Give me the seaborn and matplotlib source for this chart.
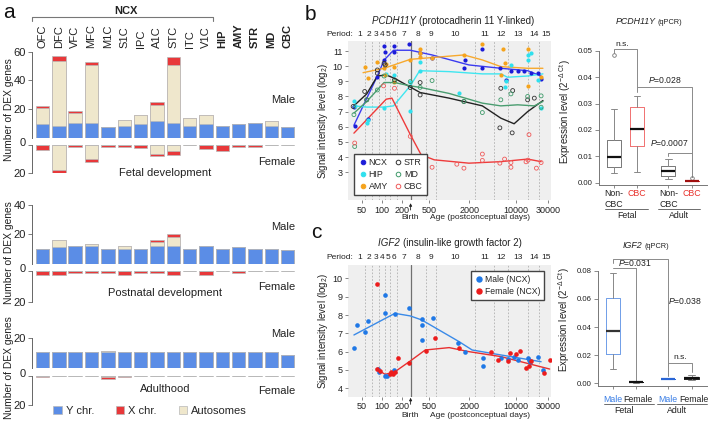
import matplotlib
matplotlib.use("Agg")
import matplotlib.pyplot as plt
import matplotlib.transforms as mtransforms
from matplotlib.lines import Line2D
from matplotlib.patches import Patch
import seaborn as sns
import numpy as np
import pandas as pd

sns.set_theme(style="white")
plt.rcParams["font.family"] = ["Liberation Sans", "DejaVu Sans"]
plt.rcParams["mathtext.fontset"] = "custom"
plt.rcParams["mathtext.rm"] = "Liberation Sans"
plt.rcParams["mathtext.it"] = "Liberation Sans:italic"
plt.rcParams["mathtext.bf"] = "Liberation Sans:bold"
plt.rcParams["axes.unicode_minus"] = False

# ---------------- data: panel a ----------------
regions = ["OFC", "DFC", "VFC", "MFC", "M1C", "S1C", "IPC", "A1C", "STC", "ITC",
           "V1C", "HIP", "AMY", "STR", "MD", "CBC"]
bold_regions = ["HIP", "AMY", "STR", "MD", "CBC"]

fetal_male_Y = [9.5, 8, 10, 10, 7.2, 8, 9.3, 11.4, 10, 8, 9.3, 8, 9.3, 10, 8, 7.2]
fetal_male_A = [11.5, 45.5, 7.5, 40.5, 0, 4.2, 6.3, 11.4, 40.7, 5.4, 6.3, 0, 0, 0, 3.3, 0]
fetal_male_X = [1, 3.5, 1.2, 2.3, 0, 0, 0, 2.3, 5.3, 0, 0, 0, 0, 0, 0, 0]
fetal_female_Y = [0] * 16
fetal_female_A = [0, 17.5, 0, 10, 0, 0, 0, 6.5, 4.2, 0, 0, 0, 0, 0, 0, 0]
fetal_female_X = [3.5, 2.5, 1.5, 2.3, 1.5, 1.5, 1.8, 1.3, 2.8, 0, 2.6, 4.5, 1.2, 1.7, 0, 0]

post_male_Y = [10, 11.1, 12, 12, 10, 10, 10, 12, 12, 10, 12, 10, 11.1, 10, 10, 9.1]
post_male_A = [0, 5, 0, 1.2, 0, 2, 0, 3, 6, 0, 0, 0, 0, 0, 0, 0]
post_male_X = [0, 0, 0, 0, 0, 0, 0, 1.1, 2, 0, 0, 0, 0, 0, 0, 0]
post_female_Y = [0] * 16
post_female_A = [0] * 16
post_female_X = [2.5, 2.5, 1.2, 1.2, 1.2, 2.5, 1.2, 1.2, 2.5, 0, 2.5, 0, 1.2, 0, 0, 0]

adult_male_Y = [10.5] * 15 + [8.6]
adult_male_A = [0, 0, 0, 0, 1.1, 0, 0, 0, 0, 0, 0, 0, 0, 0, 0, 0]
adult_male_X = [0] * 16
adult_female_Y = [0] * 16
adult_female_A = [0, 0, 0, 0, 1, 0, 0, 0, 0, 0, 0, 0, 0, 0, 0, 0]
adult_female_X = [1, 0, 0, 0, 1, 1, 0, 0, 0, 0, 0, 0, 0, 0, 0, 0]

# ---------------- data: panel b (PCDH11Y array) ----------------
period_bounds = [39, 56, 70, 91, 112, 133, 168, 266, 448, 631, 2456, 4646, 7566, 14866, 22166, 35000]
birth_day = 266
age_ticks = [50, 100, 200, 500, 2000, 10000, 30000]

NCX_pt_age = [38, 39, 61, 85, 107, 108, 111, 148, 151, 251, 363, 556, 1660, 1718, 3126, 3126,
              5700, 7020, 8340, 10500, 13200, 16600, 20900, 23500]
NCX_pt_val = [7.29, 6.02, 6.5, 9.31, 10.41, 11.33, 10.96, 11.33, 10.96, 11.44, 10.85, 10.56,
              9.86, 10.41, 11.11, 9.86, 9.86, 9.09, 9.71, 9.71, 9.71, 9.57, 9.57, 9.14]
NCX_ln_age = [38, 85, 107, 148, 263, 556, 1970, 5890, 14800, 23500]
NCX_ln_val = [6.1, 9.35, 10.4, 11.05, 11.05, 10.74, 10.08, 9.86, 9.7, 9.35]

HIP_pt_age = [38, 39, 59, 62, 107, 115, 153, 263, 263, 362, 362, 1400, 6700, 7020, 8340,
              14800, 14800, 16600, 20900, 23500]
HIP_pt_val = [7.67, 7.34, 6.28, 6.46, 7.23, 9.49, 9.42, 7.05, 8.98, 9.71, 10.3, 8.26, 8.6,
              9.0, 10.08, 10.74, 10.41, 10.85, 9.09, 7.23]
HIP_ln_age = [38, 59, 107, 148, 263, 363, 1000, 3126, 5890, 7400, 14800, 25000]
HIP_ln_val = [7.38, 7.3, 7.3, 7.38, 8.7, 9.7, 9.64, 9.49, 9.49, 9.27, 9.35, 9.49]

AMY_pt_age = [55, 61, 85, 105, 111, 115, 148, 153, 263, 363, 363, 363, 556, 1660, 3126,
              5890, 6300, 6700, 14800, 14800, 23500]
AMY_pt_val = [9.97, 9.2, 10.3, 9.86, 9.42, 10.12, 9.97, 8.98, 10.41, 11.11, 10.85, 10.63,
              10.52, 10.74, 11.46, 9.42, 11.1, 10.19, 11.1, 8.7, 9.27]
AMY_ln_age = [52, 107, 263, 1660, 3126, 5890, 14800, 25000]
AMY_ln_val = [9.57, 9.86, 10.45, 10.74, 10.41, 9.97, 9.86, 9.86]

STR_pt_age = [37, 55, 59, 85, 85, 107, 111, 153, 263, 369, 369, 1660, 5700, 8700, 5890,
              8850, 14800, 18600]
STR_pt_val = [7.34, 8.33, 7.78, 9.53, 9.75, 10.19, 10.08, 9.09, 8.59, 8.92, 8.1, 7.67, 5.93,
              5.6, 8.54, 8.39, 7.78, 7.89]
STR_ln_age = [37, 59, 85, 115, 153, 369, 1000, 3126, 5890, 9300, 14800, 25000]
STR_ln_val = [7.34, 8.17, 9.35, 9.42, 9.2, 8.26, 7.89, 7.38, 6.57, 6.2, 7.0, 7.73]

MD_pt_age = [38, 39, 59, 85, 107, 153, 263, 369, 556, 1660, 3126, 5890, 8340, 14800,
             23500, 23500]
MD_pt_val = [6.8, 4.7, 7.78, 8.43, 9.35, 8.98, 8.98, 8.6, 9.05, 7.67, 6.94, 7.78, 8.17, 8.0,
             8.04, 7.29]
MD_ln_age = [38, 59, 107, 153, 263, 369, 1000, 3126, 5890, 10500, 18600, 25000]
MD_ln_val = [6.9, 7.67, 8.92, 8.92, 8.7, 8.6, 8.2, 7.56, 7.38, 7.45, 7.38, 7.67]

CBC_pt_age = [39, 105, 153, 263, 382, 382, 556, 1300, 1660, 3126, 3126, 5700, 6700, 8340,
              8340, 14000, 15500, 15000, 20000, 23500]
CBC_pt_val = [4.93, 8.7, 8.54, 5.37, 4.0, 3.64, 3.33, 3.53, 3.27, 4.2, 3.78, 3.6, 3.87, 3.64,
              3.33, 3.69, 5.48, 3.8, 3.27, 3.64]
CBC_ln_age = [38, 115, 140, 263, 382, 600, 1970, 5890, 14800, 23500]
CBC_ln_val = [5.58, 7.82, 7.89, 5.49, 4.15, 3.82, 3.6, 3.7, 3.87, 3.7]

# ---------------- data: panel c (IGF2 array) ----------------
male_pt_age = [38, 42, 55, 62, 88, 91, 111, 111, 111, 117, 151, 156, 256, 394, 394, 394, 569,
               1349, 1718, 3198, 3198, 5890, 7420, 9340, 10730, 14850, 15370, 15900, 20980, 24960]
male_pt_val = [6.22, 7.45, 7.05, 7.67, 5.05, 4.87, 4.69, 9.09, 8.09, 4.69, 5.0, 8.05, 8.4,
               7.76, 7.45, 6.62, 7.82, 6.49, 6.0, 5.64, 5.24, 5.67, 5.6, 5.73, 5.53, 5.67,
               5.55, 5.42, 5.73, 4.98]
male_ln_age = [38, 155, 263, 390, 1400, 2200, 5890, 23500]
male_ln_val = [6.91, 8.09, 7.95, 7.73, 6.55, 6.09, 5.82, 5.45]

female_pt_age = [83, 85, 93, 129, 135, 145, 156, 175, 248, 457, 624, 1397, 4275, 5260, 7420,
                 8130, 9900, 11500, 14000, 15370, 16640, 26360, 31350]
female_pt_val = [9.69, 5.05, 4.95, 4.76, 4.87, 4.8, 4.87, 5.67, 5.4, 6.04, 6.76, 6.18, 6.0,
                 5.55, 5.49, 5.91, 5.85, 6.04, 5.13, 5.24, 5.49, 4.82, 5.55]
female_ln_age = [82, 111, 155, 263, 440, 1000, 1970, 5890, 31500]
female_ln_val = [5.05, 4.76, 4.9, 5.49, 6.09, 6.22, 6.0, 5.73, 5.05]

# ---------------- data: qPCR boxes ----------------
pcdh_groups = ["Non-CBC fetal", "CBC fetal", "Non-CBC adult", "CBC adult"]
pcdh_whislo = [0.0038, 0.0042, 0.0013, 0.0008]
pcdh_q1 = [0.0061, 0.0140, 0.0027, 0.0008]
pcdh_med = [0.0098, 0.0202, 0.0045, 0.0008]
pcdh_q3 = [0.0162, 0.0288, 0.0063, 0.0008]
pcdh_whishi = [0.0279, 0.0330, 0.0091, 0.0008]
pcdh_fliers = [[0.0484], [], [], [0.0018]]

igf2_groups = ["Male fetal", "Female fetal", "Male adult", "Female adult"]
igf2_whislo = [0.0099, 0.0005, 0.0028, 0.0024]
igf2_q1 = [0.0206, 0.0006, 0.0028, 0.0031]
igf2_med = [0.0374, 0.0007, 0.0028, 0.0040]
igf2_q3 = [0.0604, 0.0008, 0.0028, 0.0047]
igf2_whishi = [0.0781, 0.0010, 0.0028, 0.0059]
igf2_fliers = [[], [], [], []]

# ---------------- layout helpers ----------------
W, H = 715, 424
fig = plt.figure(figsize=(W / 100, H / 100), dpi=100)


def fx(x):
    return x / W


def fy(y):
    return 1 - y / H


def add_ax(l, t, r, b):
    return fig.add_axes([l / W, 1 - b / H, (r - l) / W, (b - t) / H])


COL_Y = "#5b8de6"
COL_X = "#e8383a"
COL_A = "#efe7cc"
EDGE = "#b8b8b8"
GRAYTXT = "#222222"

# ================= panel a =================
a_specs = [
    (51.6, 137.7, 60, False, fetal_male_Y, fetal_male_A, fetal_male_X),
    (145, 173.3, 20, True, fetal_female_Y, fetal_female_A, fetal_female_X),
    (205, 263.7, 40, False, post_male_Y, post_male_A, post_male_X),
    (271, 301.7, 20, True, post_female_Y, post_female_A, post_female_X),
    (338.3, 367.7, 20, False, adult_male_Y, adult_male_A, adult_male_X),
    (376, 405, 20, True, adult_female_Y, adult_female_A, adult_female_X),
]
a_axes = []
for top, bot, ymax, female, yv, av, xv in a_specs:
    ax = add_ax(31.7, top, 296, bot)
    df = pd.DataFrame({"region": regions, "Y": yv, "A": av, "X": xv})
    df["YA"] = df["Y"] + df["A"]
    df["T"] = df["YA"] + df["X"]
    for col, c in (("T", COL_X), ("YA", COL_A), ("Y", COL_Y)):
        sns.barplot(data=df, x="region", y=col, order=regions, color=c, saturation=1,
                    width=0.82, errorbar=None, edgecolor=EDGE, linewidth=0.5, ax=ax)
    ax.set_xlim(-0.66, 15.51)
    ax.set_xlabel("")
    ax.set_ylabel("")
    ax.set_xticks([])
    if female:
        ax.set_ylim(ymax, 0)
        ax.set_yticks([0, ymax])
        ax.spines["left"].set_bounds(0, ymax)
    else:
        ax.set_ylim(0, ymax)
        ax.set_yticks(list(range(20, ymax + 1, 20)))
        ax.spines["left"].set_bounds(0, ymax)
    for s in ("top", "right", "bottom"):
        ax.spines[s].set_visible(False)
    ax.spines["left"].set_color("#666666")
    ax.spines["left"].set_linewidth(0.7)
    ax.tick_params(axis="y", left=True, length=3, width=0.6, color="#666666",
                   labelsize=8, pad=1.2, labelcolor=GRAYTXT)
    ax.patch.set_alpha(0)
    a_axes.append(ax)

# nudge the female "0" labels up to sit between the male and female halves
for ax in a_axes[1::2]:
    offs = mtransforms.ScaledTranslation(0, 3.0 / 100, fig.dpi_scale_trans)
    lab = ax.get_yticklabels()[0]
    lab.set_transform(lab.get_transform() + offs)

ax0 = a_axes[0]
tr_top = mtransforms.blended_transform_factory(ax0.transData, fig.transFigure)
for i, r in enumerate(regions):
    ax0.text(i, fy(48.5), r, rotation=90, ha="center", va="bottom", fontsize=8,
             fontweight="bold" if r in bold_regions else "normal", color=GRAYTXT,
             transform=tr_top)
ax0.add_line(Line2D([-0.66, -0.66, 10.45, 10.45], [fy(20.5), fy(17), fy(17), fy(20.5)],
                    transform=tr_top, color="#777777", lw=0.8, clip_on=False))
ax0.text(5.1, fy(11), "NCX", ha="center", va="center", fontsize=8, fontweight="bold",
         color=GRAYTXT, transform=tr_top)

for cy in (110, 253, 368):
    fig.text(fx(8.7), fy(cy), "Number of DEX genes", rotation=90, ha="center", va="center",
             fontsize=7.4, color=GRAYTXT)
for y, t in ((100, "Male"), (162, "Female"), (227, "Male"), (287, "Female"),
             (334, "Male"), (391, "Female")):
    fig.text(fx(295), fy(y), t, ha="right", va="center", fontsize=8, color=GRAYTXT)
for y, t in ((173, "Fetal development"), (293, "Postnatal development"), (389, "Adulthood")):
    fig.text(fx(165), fy(y), t, ha="center", va="center", fontsize=8, color=GRAYTXT)

leg_handles = [Patch(facecolor=COL_Y, edgecolor=EDGE, lw=0.5),
               Patch(facecolor=COL_X, edgecolor=EDGE, lw=0.5),
               Patch(facecolor=COL_A, edgecolor=EDGE, lw=0.5)]
fig.legend(leg_handles, ["Y chr.", "X chr.", "Autosomes"], ncol=3, loc="center left",
           bbox_to_anchor=(fx(53.3), fy(411)), frameon=False, fontsize=8,
           handlelength=0.75, handleheight=0.75, handletextpad=0.35, columnspacing=2.0,
           borderpad=0, borderaxespad=0)

# ================= panels b/c scatter =================
BG = "#efefef"
DASH = "#b0b0b0"


def style_time_axis(ax, ylim, yticks, per_y, arrow_y, birth_y, gene, desc, title_xy):
    ax.set_xscale("log")
    ax.set_facecolor(BG)
    ax.set_xlim(31, 33000)
    ax.set_ylim(*ylim)
    ax.set_yticks(yticks)
    ax.set_xticks(age_ticks)
    ax.set_xticklabels([str(t) for t in age_ticks])
    ax.minorticks_off()
    for s in ax.spines.values():
        s.set_visible(False)
    ax.tick_params(axis="both", bottom=True, left=True, length=2.5, width=0.5,
                   color="#555555", labelsize=6.5, pad=1.5, labelcolor=GRAYTXT)
    for b in period_bounds[1:-1]:
        if b == birth_day:
            continue
        ax.axvline(b, color=DASH, lw=0.6, ls=(0, (2, 2)), zorder=0.5)
    ax.axvline(birth_day, color="#707070", lw=0.9, zorder=0.6)
    trb = mtransforms.blended_transform_factory(ax.transData, ax.transAxes)
    for i in range(len(period_bounds) - 1):
        g = np.sqrt(period_bounds[i] * period_bounds[i + 1])
        ax.text(g, per_y, str(i + 1), ha="center", va="center", fontsize=6,
                color=GRAYTXT, transform=trb)
    ax.text(0.025, per_y, "Period:", ha="right", va="center", fontsize=6, color=GRAYTXT,
            transform=ax.transAxes)
    ax.annotate("", xy=(birth_day, arrow_y[0]), xycoords=trb,
                xytext=(birth_day, arrow_y[1]), textcoords=trb,
                arrowprops=dict(arrowstyle="-|>", color="#222222", lw=0.6,
                                mutation_scale=4, shrinkA=0, shrinkB=0),
                annotation_clip=False)
    ax.text(birth_day, birth_y, "Birth", ha="center", va="center", fontsize=6,
            color=GRAYTXT, transform=trb)
    ax.text(0.648, birth_y, "Age (postconceptual days)", ha="center", va="center",
            fontsize=6, color=GRAYTXT, transform=ax.transAxes)
    ax.set_ylabel(r"Signal intensity level (log$_2$)", fontsize=7, labelpad=2, color=GRAYTXT)
    fig.text(fx(title_xy[0]), fy(title_xy[1]), gene + " ", ha="right", va="baseline",
             fontsize=7, fontstyle="italic", color=GRAYTXT)
    fig.text(fx(title_xy[0]), fy(title_xy[1]), desc, ha="left", va="baseline",
             fontsize=7, color=GRAYTXT)


ax_b = add_ax(348, 41, 551, 200)
ax_b.set_xscale("log")
b_series = [
    ("NCX", NCX_pt_age, NCX_pt_val, NCX_ln_age, NCX_ln_val, "#1c1cd8", "#3b3bef", True),
    ("HIP", HIP_pt_age, HIP_pt_val, HIP_ln_age, HIP_ln_val, "#2fe0ee", "#3fe6f0", True),
    ("AMY", AMY_pt_age, AMY_pt_val, AMY_ln_age, AMY_ln_val, "#f5a31c", "#f7a92e", True),
    ("STR", STR_pt_age, STR_pt_val, STR_ln_age, STR_ln_val, "#333333", "#222222", False),
    ("MD", MD_pt_age, MD_pt_val, MD_ln_age, MD_ln_val, "#3f9a6a", "#4a9d70", False),
    ("CBC", CBC_pt_age, CBC_pt_val, CBC_ln_age, CBC_ln_val, "#ef5a5a", "#ee3b3b", False),
]
b_handles = []
for name, pa, pv, la, lv, pc, lc, filled in b_series:
    if filled:
        sns.scatterplot(x=pa, y=pv, color=pc, s=9, linewidth=0, ax=ax_b, zorder=3, legend=False)
    else:
        sns.scatterplot(x=pa, y=pv, color=pc, facecolor="none", edgecolor=pc, s=8,
                        linewidth=0.6, ax=ax_b, zorder=3, legend=False)
    sns.lineplot(x=la, y=lv, color=lc, lw=1.0, ax=ax_b, errorbar=None, zorder=2, legend=False)
    b_handles.append(Line2D([], [], ls="", marker="o", markersize=3.3, color=pc,
                            markerfacecolor=pc if filled else "none", markeredgewidth=0.7))
style_time_axis(ax_b, (1.17, 11.66), list(range(3, 12)), 1.044, (-0.02, -0.063), -0.113,
                "PCDH11Y", "(protocadherin 11 Y-linked)", (419, 24.2))
ax_b.legend(b_handles, [s[0] for s in b_series], ncol=2, loc="lower left",
            bbox_to_anchor=(0.008, 0.005), fontsize=6.4, frameon=True, fancybox=False,
            edgecolor="#444444", framealpha=1, handletextpad=0.2, columnspacing=0.6,
            borderpad=0.45, labelspacing=0.3, handlelength=1.0)

ax_c = add_ax(348, 265, 551, 396.7)
ax_c.set_xscale("log")
sns.scatterplot(x=male_pt_age, y=male_pt_val, color="#1f78e6", s=11, linewidth=0, ax=ax_c,
                zorder=3, legend=False)
sns.scatterplot(x=female_pt_age, y=female_pt_val, color="#ec1c1c", s=11, linewidth=0, ax=ax_c,
                zorder=3, legend=False)
sns.lineplot(x=male_ln_age, y=male_ln_val, color="#3a8ae8", lw=1.0, ax=ax_c, errorbar=None,
             zorder=2, legend=False)
sns.lineplot(x=female_ln_age, y=female_ln_val, color="#e83030", lw=1.0, ax=ax_c,
             errorbar=None, zorder=2, legend=False)
style_time_axis(ax_c, (3.54, 10.73), list(range(4, 11)), 1.055, (-0.008, -0.058), -0.139,
                "IGF2", "(insulin-like growth factor 2)", (403, 245.8))
c_handles = [Line2D([], [], ls="", marker="o", markersize=3.6, color="#1f78e6"),
             Line2D([], [], ls="", marker="o", markersize=3.6, color="#ec1c1c")]
ax_c.legend(c_handles, ["Male (NCX)", "Female (NCX)"], loc="upper right",
            bbox_to_anchor=(0.988, 0.985), fontsize=6.2, frameon=True, fancybox=False,
            edgecolor="#444444", framealpha=1, handletextpad=0.2, borderpad=0.45,
            labelspacing=0.35, handlelength=1.0)

# ================= qPCR box panels =================
box_pos = [0, 1, 2.39, 3.42]


def draw_boxes(ax, wl, q1, med, q3, wh, fl, edge_cols, med_cols, ylim, ymax_spine, step):
    stats = [dict(whislo=wl[i], q1=q1[i], med=med[i], q3=q3[i], whishi=wh[i], fliers=fl[i])
             for i in range(len(med))]
    res = ax.bxp(stats, positions=box_pos, widths=0.62, capwidths=0.28, showfliers=True,
                 boxprops=dict(lw=0.7), whiskerprops=dict(lw=0.7, color="#888888"),
                 capprops=dict(lw=0.7, color="#888888"), medianprops=dict(lw=1.6),
                 flierprops=dict(marker="o", markersize=2.6, markerfacecolor="none",
                                 markeredgecolor="#777777", markeredgewidth=0.6))
    for i in range(len(med)):
        res["boxes"][i].set_color(edge_cols[i])
        res["medians"][i].set_color(med_cols[i])
    ax.set_xlim(-0.65, 4.08)
    ax.set_ylim(*ylim)
    ticks = np.round(np.arange(0, ymax_spine + step / 2, step), 3)
    ax.set_yticks(ticks)
    ax.set_yticklabels([f"{t:.2f}" for t in ticks])
    ax.set_xticks(box_pos)
    ax.set_xticklabels([])
    for s in ("top", "right"):
        ax.spines[s].set_visible(False)
    for s in ("left", "bottom"):
        ax.spines[s].set_color("#777777")
        ax.spines[s].set_linewidth(0.7)
    ax.spines["left"].set_bounds(ylim[0], ymax_spine)
    ax.tick_params(axis="y", left=True, length=3, width=0.6, color="#777777", labelsize=5.6,
                   pad=2, labelcolor=GRAYTXT)
    ax.tick_params(axis="x", bottom=True, length=2, width=0.6, color="#777777")
    ax.set_ylabel(r"Expression level (2$^{-\Delta\ \mathrm{Ct}}$)", fontsize=7, labelpad=3,
                  color=GRAYTXT)
    ax.patch.set_alpha(0)


def bracket(ax, x0, x1, y0, yh, y1):
    ax.plot([x0, x0, x1, x1], [y0, yh, yh, y1], color="#8a8a8a", lw=0.7, clip_on=False,
            zorder=1)


RED_T = "#e8302a"
BLUE_T = "#3a7ee6"

ax_bb = add_ax(599.3, 37.5, 706.7, 185)
draw_boxes(ax_bb, pcdh_whislo, pcdh_q1, pcdh_med, pcdh_q3, pcdh_whishi, pcdh_fliers,
           ["#777777", "#f07070", "#777777", "#d03030"],
           ["#111111", "#111111", "#111111", "#a01010"],
           (-0.00087, 0.055), 0.05, 0.01)
bracket(ax_bb, 0, 1, 0.049, 0.0506, 0.0345)
bracket(ax_bb, 1, 3.42, 0.0364, 0.0364, 0.0022)
bracket(ax_bb, 2.39, 3.42, 0.0101, 0.0114, 0.0022)
ax_bb.text(0.34, 0.0525, "n.s.", ha="center", va="center", fontsize=6, color=GRAYTXT)
ax_bb.text(2.25, 0.0388, r"$\mathit{P}$=0.028", ha="center", va="center", fontsize=6.2,
           color=GRAYTXT)
ax_bb.text(2.42, 0.0150, r"$\mathit{P}$=0.0007", ha="center", va="center", fontsize=6.2,
           color=GRAYTXT)
trbb = mtransforms.blended_transform_factory(ax_bb.transData, ax_bb.transAxes)
for p, t, c in ((0, "Non-", GRAYTXT), (1, "CBC", RED_T), (2.39, "Non-", GRAYTXT),
                (3.42, "CBC", RED_T)):
    ax_bb.text(p, -0.061, t, ha="center", va="center", fontsize=6.3, color=c, transform=trbb)
for p in (0, 2.39):
    ax_bb.text(p, -0.129, "CBC", ha="center", va="center", fontsize=6.3, color=GRAYTXT,
               transform=trbb)
for xa, xb, lab in ((-0.4, 1.5, "Fetal"), (1.94, 3.79, "Adult")):
    ax_bb.add_line(Line2D([xa, xb], [-0.163, -0.163], transform=trbb, color="#555555",
                          lw=0.6, clip_on=False))
    ax_bb.text((xa + xb) / 2, -0.205, lab, ha="center", va="center", fontsize=6.3,
               color=GRAYTXT, transform=trbb)
fig.text(fx(655.5), fy(24.3), "PCDH11Y", ha="right", va="baseline", fontsize=6.4,
         fontstyle="italic", color=GRAYTXT)
fig.text(fx(657.5), fy(24.3), "(qPCR)", ha="left", va="baseline", fontsize=5.3, color=GRAYTXT)

ax_cb = add_ax(598.3, 253.8, 706.7, 386)
draw_boxes(ax_cb, igf2_whislo, igf2_q1, igf2_med, igf2_q3, igf2_whishi, igf2_fliers,
           ["#6f9de8", "#111111", "#2a66d6", "#222222"],
           ["#333333", "#111111", "#2a66d6", "#111111"],
           (-0.0019, 0.092), 0.08, 0.02)
bracket(ax_cb, 0, 2.39, 0.0852, 0.088, 0.0052)
bracket(ax_cb, 0, 1, 0.0817, 0.0817, 0.0017)
bracket(ax_cb, 2.39, 3.42, 0.009, 0.0142, 0.0083)
ax_cb.text(0.94, 0.0822, r"$\mathit{P}$=0.031", ha="center", va="bottom", fontsize=6.2,
           color=GRAYTXT)
ax_cb.text(3.13, 0.0587, r"$\mathit{P}$=0.038", ha="center", va="center", fontsize=6.2,
           color=GRAYTXT)
ax_cb.text(2.91, 0.0185, "n.s.", ha="center", va="center", fontsize=6, color=GRAYTXT)
trcb = mtransforms.blended_transform_factory(ax_cb.transData, ax_cb.transAxes)
for p, t, c in ((0, "Male", BLUE_T), (1.08, "Female", GRAYTXT), (2.39, "Male", BLUE_T),
                (3.5, "Female", GRAYTXT)):
    ax_cb.text(p, -0.10, t, ha="center", va="center", fontsize=6.3, color=c, transform=trcb)
for xa, xb, lab in ((-0.4, 1.76, "Fetal"), (1.92, 4.08, "Adult")):
    ax_cb.add_line(Line2D([xa, xb], [-0.138, -0.138], transform=trcb, color="#555555",
                          lw=0.6, clip_on=False))
    ax_cb.text((xa + xb) / 2 - 0.2, -0.182, lab, ha="center", va="center", fontsize=6.3,
               color=GRAYTXT, transform=trcb)
fig.text(fx(642.5), fy(247.6), "IGF2", ha="right", va="baseline", fontsize=6.4,
         fontstyle="italic", color=GRAYTXT)
fig.text(fx(644.5), fy(247.6), "(qPCR)", ha="left", va="baseline", fontsize=5.3, color=GRAYTXT)

# panel letters
fig.text(fx(3), fy(18.5), "a", fontsize=15, va="baseline", ha="left", color="#111111")
fig.text(fx(304.5), fy(20), "b", fontsize=15, va="baseline", ha="left", color="#111111")
fig.text(fx(311), fy(238.5), "c", fontsize=15, va="baseline", ha="left", color="#111111")

fig.savefig("out.png", dpi=100)
